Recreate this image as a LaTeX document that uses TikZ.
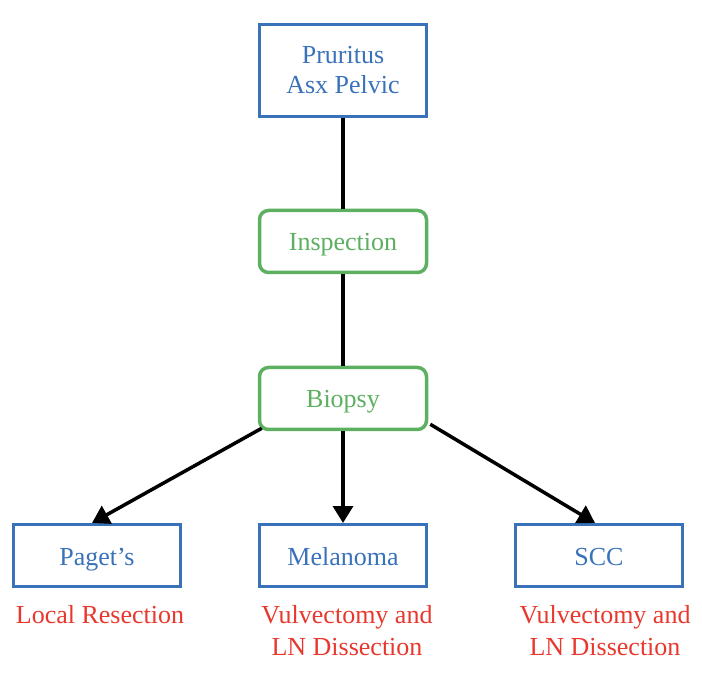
\documentclass[tikz,border=0pt]{standalone}
\usepackage{fontspec}
\setmainfont{Liberation Serif}
\usetikzlibrary{arrows.meta,calc}
\definecolor{bblue}{RGB}{58,114,186}
\definecolor{bgreen}{RGB}{92,176,96}
\definecolor{rred}{RGB}{232,56,46}
\tikzset{
  bluebox/.style={draw=bblue,line width=3pt,text=bblue,minimum width=167pt,minimum height=62pt,align=center,inner sep=0pt,font=\fontsize{26}{30}\selectfont},
  oneline/.style={text height=19pt,text depth=0pt},
  greenbox/.style={draw=bgreen,line width=3.5pt,text=bgreen,rounded corners=9pt,minimum width=167pt,minimum height=62pt,align=center,inner sep=0pt,font=\fontsize{26}{30}\selectfont,oneline},
  redtext/.style={text=rred,align=center,inner sep=0pt,font=\fontsize{26}{32}\selectfont},
  conn/.style={line width=3.5pt,black},
  arr/.style={conn,-{Triangle[length=17pt,width=20pt]}}
}
\begin{document}
\begin{tikzpicture}[x=1pt,y=-1pt]
\useasboundingbox (0,0) rectangle (702,676);
\node[bluebox,minimum height=92pt] (top) at (343,70.5) {Pruritus\\Asx Pelvic};
\node[greenbox] (insp) at (343,241.5) {Inspection};
\node[greenbox] (bio) at (343,398.5) {Biopsy};
\node[bluebox,oneline] (pag) at (97,555.5) {Paget’s};
\node[bluebox,oneline] (mel) at (343,555.5) {Melanoma};
\node[bluebox,oneline] (scc) at (599,555.5) {SCC};
\node[redtext] (r1) at (100,615) {Local Resection};
\node[redtext] (r2) at (347,631) {Vulvectomy and\\LN Dissection};
\node[redtext] (r3) at (605,631) {Vulvectomy and\\LN Dissection};
\coordinate (bl) at ($(bio.south west)+(4,-3)$);
\coordinate (br) at ($(bio.south east)+(2,-7)$);
\coordinate (pt) at ($(pag.north)+(-5,0)$);
\coordinate (st) at ($(scc.north)+(-4,0)$);
\draw[conn] (top) -- (insp);
\draw[conn] (insp) -- (bio);
\draw[arr] (bl) -- (pt);
\draw[arr] (bio) -- (mel);
\draw[arr] (br) -- (st);
\end{tikzpicture}
\end{document}
